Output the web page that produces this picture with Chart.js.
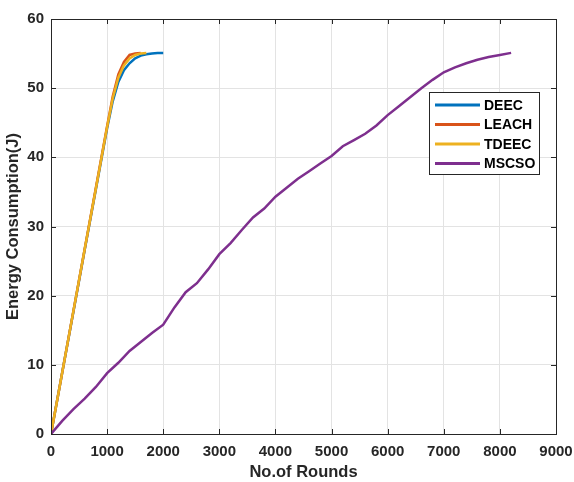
<!DOCTYPE html>
<html>
<head>
<meta charset="utf-8">
<script src="https://cdn.jsdelivr.net/npm/chart.js@4/dist/chart.umd.min.js"></script>
<style>
  html, body { margin: 0; padding: 0; background: #fff; }
  #wrap { width: 574px; height: 482px; }
</style>
</head>
<body>
<div id="wrap"><canvas id="chart" width="574" height="482"></canvas></div>
<script>
// rounds / energy
const deecRounds = [0, 200, 400, 600, 800, 1000, 1100, 1200, 1300, 1400, 1500, 1600, 1700, 1800, 1900, 2000];
const deecEnergy = [0, 8.9, 17.7, 26.6, 35.4, 44.2, 48.1, 50.9, 52.6, 53.6, 54.3, 54.7, 54.9, 55.0, 55.1, 55.1];

const leachRounds = [0, 200, 400, 600, 800, 1000, 1100, 1200, 1300, 1400, 1500, 1600];
const leachEnergy = [0, 8.9, 17.8, 26.7, 35.6, 44.5, 48.8, 52.0, 53.8, 54.8, 55.0, 55.1];

const tdeecRounds = [0, 200, 400, 600, 800, 1000, 1100, 1200, 1300, 1400, 1500, 1600, 1700];
const tdeecEnergy = [0, 8.9, 17.8, 26.7, 35.5, 44.4, 48.5, 51.5, 53.3, 54.3, 54.8, 55.0, 55.1];

const mscsoRounds = [0, 200, 400, 600, 800, 1000, 1200, 1400, 1600, 1800, 2000, 2200, 2400, 2600, 2800,
  3000, 3200, 3400, 3600, 3800, 4000, 4200, 4400, 4600, 4800, 5000, 5200, 5400, 5600, 5800,
  6000, 6200, 6400, 6600, 6800, 7000, 7200, 7400, 7600, 7800, 8000, 8200];
const mscsoEnergy = [0, 1.9, 3.6, 5.1, 6.8, 8.8, 10.3, 12.0, 13.3, 14.6, 15.8, 18.3, 20.5, 21.8, 23.8,
  26.0, 27.6, 29.5, 31.3, 32.6, 34.3, 35.6, 36.9, 38.0, 39.1, 40.2, 41.6, 42.5, 43.4, 44.6,
  46.1, 47.4, 48.7, 50.0, 51.2, 52.3, 53.0, 53.6, 54.1, 54.5, 54.8, 55.1];

const seriesNames = ["DEEC", "LEACH", "TDEEC", "MSCSO"];
const seriesColors = ["#0072BD", "#D95319", "#EDB120", "#7E2F8E"];

const xTicks = [0, 1000, 2000, 3000, 4000, 5000, 6000, 7000, 8000, 9000];
const yTicks = [0, 10, 20, 30, 40, 50, 60];

function toPoints(xs, ys) {
  return xs.map((x, i) => ({ x: x, y: ys[i] }));
}

const allSeries = [
  toPoints(deecRounds, deecEnergy),
  toPoints(leachRounds, leachEnergy),
  toPoints(tdeecRounds, tdeecEnergy),
  toPoints(mscsoRounds, mscsoEnergy),
];

const axisColor = "#262626";

// box around the plot, inward ticks on all four sides, and the legend box
const matlabFrame = {
  id: "matlabFrame",
  afterDraw(chart) {
    const ctx = chart.ctx;
    const a = chart.chartArea;
    const xs = chart.scales.x;
    const ys = chart.scales.y;
    ctx.save();
    ctx.strokeStyle = axisColor;
    ctx.lineWidth = 1;
    ctx.strokeRect(Math.round(a.left) + 0.5, Math.round(a.top) + 0.5,
      Math.round(a.right - a.left), Math.round(a.bottom - a.top));
    const t = 5;
    ctx.beginPath();
    xTicks.forEach((v) => {
      const px = Math.round(xs.getPixelForValue(v)) + 0.5;
      ctx.moveTo(px, a.bottom); ctx.lineTo(px, a.bottom - t);
      ctx.moveTo(px, a.top); ctx.lineTo(px, a.top + t);
    });
    yTicks.forEach((v) => {
      const py = Math.round(ys.getPixelForValue(v)) + 0.5;
      ctx.moveTo(a.left, py); ctx.lineTo(a.left + t, py);
      ctx.moveTo(a.right, py); ctx.lineTo(a.right - t, py);
    });
    ctx.stroke();

    // legend
    const bx = 429.5, by = 92.5, bw = 110, bh = 82;
    ctx.fillStyle = "#fff";
    ctx.fillRect(bx, by, bw, bh);
    ctx.strokeStyle = axisColor;
    ctx.strokeRect(bx, by, bw, bh);
    ctx.font = "bold 14px 'Liberation Sans', Arial, sans-serif";
    ctx.textBaseline = "middle";
    seriesNames.forEach((name, i) => {
      const ry = 105 + i * 19.5;
      ctx.strokeStyle = seriesColors[i];
      ctx.lineWidth = 3;
      ctx.beginPath();
      ctx.moveTo(435, ry); ctx.lineTo(480, ry);
      ctx.stroke();
      ctx.fillStyle = "#000";
      ctx.fillText(name, 484, ry + 1);
    });
    ctx.restore();
  },
};

const datasets = seriesNames.map((name, i) => ({
  label: name,
  data: allSeries[i],
  borderColor: seriesColors[i],
  backgroundColor: seriesColors[i],
  borderWidth: 2.5,
  pointRadius: 0,
  tension: 0,
  order: seriesNames.length - i,
}));

new Chart(document.getElementById("chart"), {
  type: "line",
  data: { datasets: datasets },
  plugins: [matlabFrame],
  options: {
    responsive: false,
    animation: false,
    layout: { padding: { top: 19, right: 18, left: 0, bottom: 0 } },
    plugins: {
      legend: { display: false },
      tooltip: { enabled: false },
    },
    scales: {
      x: {
        type: "linear",
        min: 0,
        max: 9000,
        afterFit: (s) => {
          s.height = 48;
          s.paddingLeft = 0;
          s.paddingRight = 0;
        },
        afterBuildTicks: (s) => { s.ticks = xTicks.map((v) => ({ value: v })); },
        ticks: {
          color: axisColor,
          padding: 9,
          maxRotation: 0,
          autoSkip: false,
          font: { family: "'Liberation Sans', Arial, sans-serif", size: 15, weight: "bold" },
          callback: (v) => String(v),
        },
        grid: { color: "#e3e3e3", drawTicks: false },
        border: { display: false },
        title: {
          display: true,
          text: "No.of Rounds",
          color: axisColor,
          padding: { top: 0, bottom: 0 },
          font: { family: "'Liberation Sans', Arial, sans-serif", size: 16.5, weight: "bold" },
        },
      },
      y: {
        type: "linear",
        min: 0,
        max: 60,
        afterFit: (s) => { s.width = 51; },
        afterBuildTicks: (s) => { s.ticks = yTicks.map((v) => ({ value: v })); },
        ticks: {
          color: axisColor,
          padding: 7,
          font: { family: "'Liberation Sans', Arial, sans-serif", size: 15, weight: "bold" },
        },
        grid: { color: "#e3e3e3", drawTicks: false },
        border: { display: false },
        title: {
          display: true,
          text: "Energy Consumption(J)",
          color: axisColor,
          padding: { top: 4, bottom: 0 },
          font: { family: "'Liberation Sans', Arial, sans-serif", size: 16.5, weight: "bold" },
        },
      },
    },
  },
});
</script>
</body>
</html>
